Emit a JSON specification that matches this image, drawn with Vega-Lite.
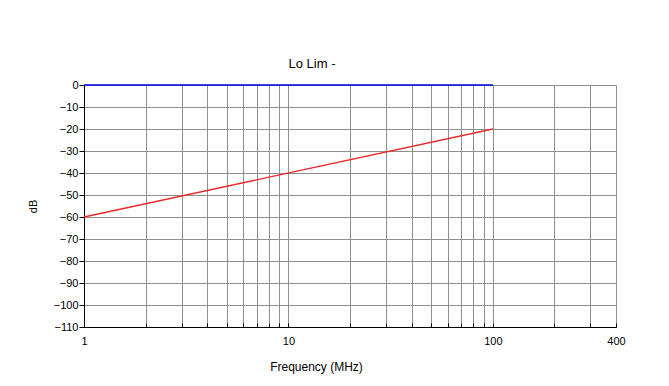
{
  "$schema": "https://vega.github.io/schema/vega-lite/v6.json",
  "autosize": {"type": "none"},
  "width": 532,
  "height": 242,
  "padding": {"left": 84, "top": 85, "right": 53, "bottom": 59},
  "background": "white",
  "title": {"text": "Lo Lim -", "font": "Liberation Sans", "fontSize": 13, "fontWeight": "normal", "color": "black", "anchor": "middle", "dx": -38, "offset": 8},
  "config": {"view": {"stroke": null}},
  "data": {"values": [
    {"freq": 1, "db": -60, "series": "Lo Lim"},
    {"freq": 100, "db": -20, "series": "Lo Lim"},
    {"freq": 1, "db": 0, "series": "Ref"},
    {"freq": 100, "db": 0, "series": "Ref"}
  ]},
  "mark": {"type": "line", "strokeWidth": 1.3, "clip": false},
  "encoding": {
    "x": {"field": "freq", "type": "quantitative",
      "scale": {"type": "log", "domain": [1, 400], "nice": false},
      "axis": {"title": "Frequency (MHz)", "titleFont": "Liberation Sans", "titleFontSize": 12, "titleFontWeight": "normal", "titleColor": "black", "titlePadding": 15, "titleX": 232,
        "values": [1,2,3,4,5,6,7,8,9,10,20,30,40,50,60,70,80,90,100,200,300,400],
        "labelExpr": "indexof([1,10,100,400], datum.value) >= 0 ? datum.label : ''",
        "labelFont": "Liberation Sans", "labelFontSize": 11, "labelColor": "black", "labelPadding": 12, "labelFlush": false, "labelOverlap": false,
        "tickSize": -4, "tickColor": "black", "domainColor": "black", "gridColor": "#8e8e8e", "gridOpacity": 1, "gridWidth": 1}},
    "y": {"field": "db", "type": "quantitative",
      "scale": {"domain": [-110, 0], "nice": false, "zero": false},
      "axis": {"title": "dB", "titleFont": "Liberation Sans", "titleFontSize": 11, "titleFontWeight": "normal", "titleColor": "black", "titlePadding": 15,
        "values": [-110,-100,-90,-80,-70,-60,-50,-40,-30,-20,-10,0],
        "labelFont": "Liberation Sans", "labelFontSize": 11, "labelColor": "black", "labelPadding": 1,
        "tickSize": 5, "tickColor": "black", "domainColor": "black", "gridColor": "#8e8e8e", "gridOpacity": 1, "gridWidth": 1}},
    "color": {"field": "series", "type": "nominal", "scale": {"domain": ["Lo Lim", "Ref"], "range": ["#e8282b", "#0000e0"]}, "legend": null}
  }
}
